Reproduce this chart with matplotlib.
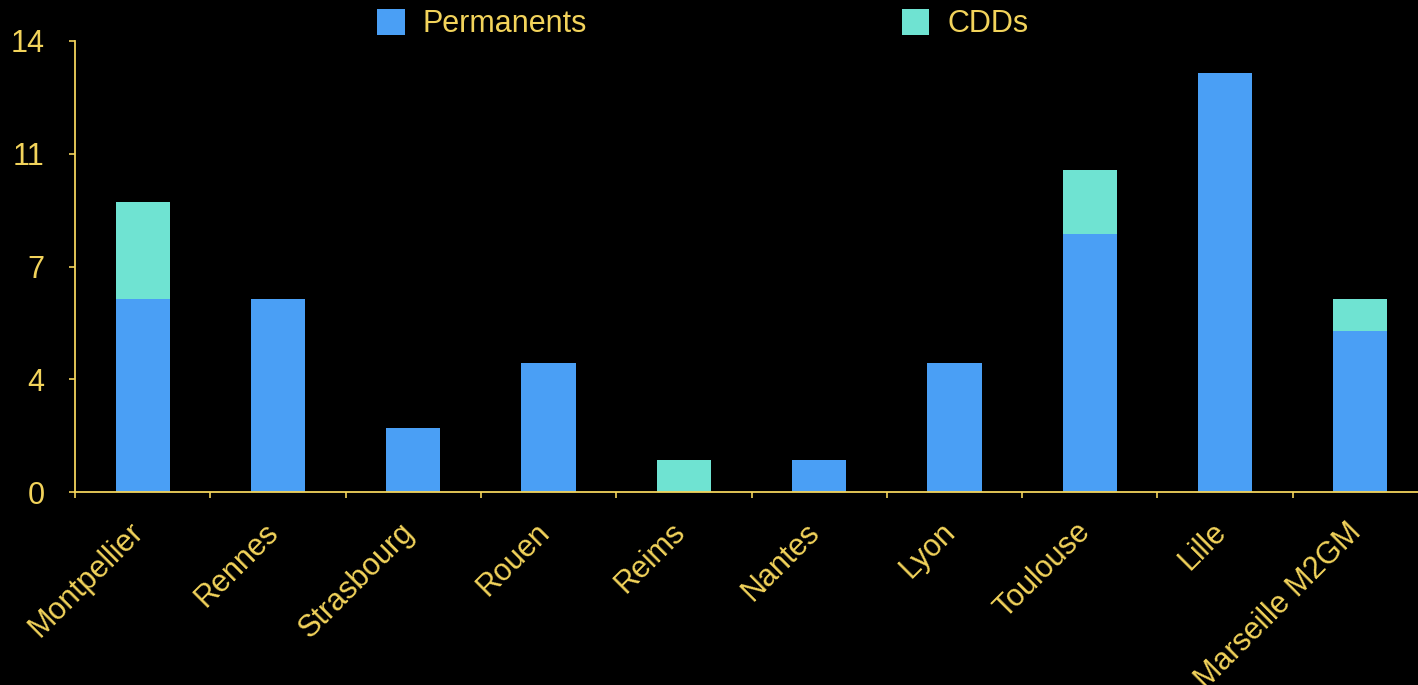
import matplotlib
matplotlib.use('Agg')
import matplotlib.pyplot as plt
import matplotlib.transforms as mtransforms
import numpy as np

# Data
sites = ['Montpellier', 'Rennes', 'Strasbourg', 'Rouen', 'Reims',
         'Nantes', 'Lyon', 'Toulouse', 'Lille', 'Marseille M2GM']
permanents = [6, 6, 2, 4, 0, 1, 4, 8, 13, 5]
cdds = [3, 0, 0, 0, 1, 0, 0, 2, 0, 1]
ytick_vals = [0, 3.5, 7, 10.5, 14]
ytick_labels = ['0', '4', '7', '11', '14']

text_col = '#f2d35b'
blue = '#4a9ff5'
teal = '#6fe3d2'

plt.rcParams['font.family'] = ['Liberation Sans', 'DejaVu Sans']
plt.rcParams['font.size'] = 22

fig = plt.figure(figsize=(14.18, 6.85), dpi=100, facecolor='black')
# axes stretch past the right edge like the original slide
ax = fig.add_axes([75 / 1418, 1 - 492 / 685, 1353 / 1418, 451 / 685])
ax.set_facecolor('black')

x = np.arange(len(sites))
ax.bar(x, permanents, width=0.4, color=blue, label='Permanents')
ax.bar(x, cdds, width=0.4, bottom=permanents, color=teal, label='CDDs')

ax.set_xlim(-0.5, len(sites) - 0.5)
ax.set_ylim(0, 14)
ax.set_yticks(ytick_vals)
ax.set_yticklabels(ytick_labels)

# category labels at centres, tick marks on boundaries
ax.set_xticks(x)
ax.set_xticklabels(sites, rotation=45, ha='right', rotation_mode='default')
ax.set_xticks(np.arange(len(sites) + 1) - 0.5, minor=True)
ax.tick_params(axis='x', which='major', length=0, pad=18, colors=text_col)
ax.tick_params(axis='x', which='minor', length=4, width=1.2, color=text_col)
ax.tick_params(axis='y', length=4, width=1.2, pad=18, colors=text_col)

# nudge rotated labels a little to the right
shift = mtransforms.ScaledTranslation(7 / 100, 0, fig.dpi_scale_trans)
for lab in ax.get_xticklabels():
    lab.set_transform(lab.get_transform() + shift)

for s in ['top', 'right']:
    ax.spines[s].set_visible(False)
for s in ['left', 'bottom']:
    ax.spines[s].set_color(text_col)
    ax.spines[s].set_linewidth(1.3)

leg = fig.legend(loc='center', bbox_to_anchor=(703 / 1418, 1 - 24 / 685), ncol=2,
                 frameon=False, handlelength=0.9, handleheight=0.95,
                 handletextpad=0.6, columnspacing=10.3, labelcolor=text_col)

fig.savefig('out.png', dpi=100, facecolor='black')
